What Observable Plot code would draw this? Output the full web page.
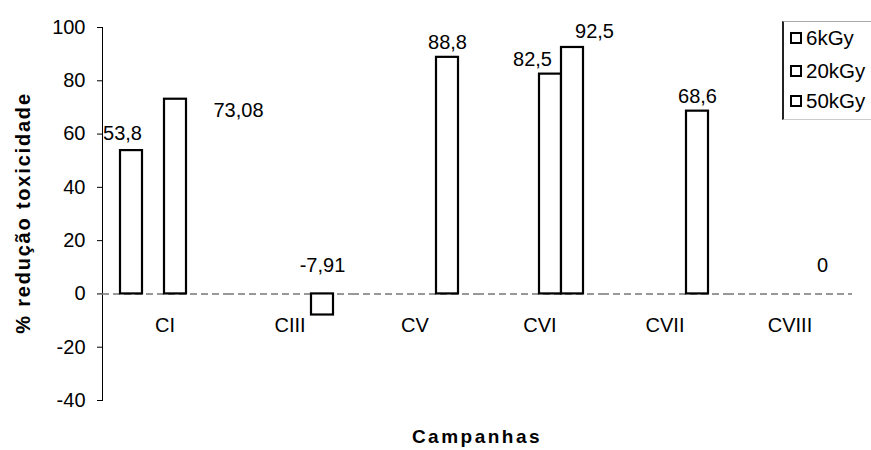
<!DOCTYPE html>
<html>
<head>
<meta charset="utf-8">
<script src="https://cdn.jsdelivr.net/npm/d3@7"></script>
<script src="https://cdn.jsdelivr.net/npm/@observablehq/plot@0.6"></script>
<style>
  html, body { margin: 0; padding: 0; background: #fff; overflow: hidden; }
  #wrap { position: relative; width: 871px; height: 450px; font-family: "Liberation Sans", Arial, sans-serif; color: #000; }
  #ytitle { position: absolute; left: 23px; top: 213px; transform: translate(-50%, -50%) rotate(-90deg);
            font-weight: bold; font-size: 20px; letter-spacing: 1.8px; white-space: nowrap; }
  #xtitle { position: absolute; left: 477px; top: 437px; transform: translate(-50%, -50%);
            font-weight: bold; font-size: 19px; letter-spacing: 2.5px; white-space: nowrap; }
  #legend { position: absolute; left: 782px; top: 21px; width: 100px; height: 97px;
            border-left: 2px solid #222; border-top: 1px solid #aaa; border-bottom: 1px solid #ccc; }
  .item { position: absolute; left: 6px; height: 24px; display: flex; align-items: center; font-size: 20.5px; white-space: nowrap; }
  .sw { width: 8px; height: 8px; border: 2.5px solid #000; background: #fff; margin-right: 4px; }
</style>
</head>
<body>
<div id="wrap">
  <div id="chart"></div>
  <div id="ytitle">% redução toxicidade</div>
  <div id="xtitle">Campanhas</div>
  <div id="legend"></div>
</div>
<script>
// ---- data ----
const categories = ["CI", "CIII", "CV", "CVI", "CVII", "CVIII"];
const doses = ["6kGy", "20kGy", "50kGy"];
const campaign = ["CI", "CI", "CIII", "CV", "CVI", "CVI", "CVII", "CVIII"];
const dose = ["6kGy", "20kGy", "50kGy", "50kGy", "20kGy", "50kGy", "50kGy", "50kGy"];
const reduction = [53.8, 73.08, -7.91, 88.8, 82.5, 92.5, 68.6, 0];
const yTicks = [-40, -20, 0, 20, 40, 60, 80, 100];

const rows = campaign.map((c, i) => ({campaign: c, dose: dose[i], value: reduction[i]}));
const fmt = v => String(v).replace(".", ",");

const isCI6 = d => d.campaign === "CI" && d.dose === "6kGy";
const isCI20 = d => d.campaign === "CI" && d.dose === "20kGy";
const isCVI20 = d => d.campaign === "CVI" && d.dose === "20kGy";
const isCVI50 = d => d.campaign === "CVI" && d.dose === "50kGy";
const special = d => isCI6(d) || isCI20(d) || isCVI20(d) || isCVI50(d);

const barOpts = {fx: "campaign", x: "dose", y: "value", fill: "white", stroke: "#000", strokeWidth: 2.2};
const txt = (data, extra) => Plot.text(data, Object.assign({
  fx: "campaign", x: "dose", y: d => Math.max(0, d.value), text: d => fmt(d.value),
  lineAnchor: "middle", fontSize: 20, fill: "#000"
}, extra));

const chart = Plot.plot({
  width: 871,
  height: 420,
  marginLeft: 100,
  marginRight: 18,
  marginTop: 27,
  marginBottom: 20,
  style: {fontFamily: "'Liberation Sans', Arial, sans-serif", fontSize: "20px", color: "#000", background: "#fff"},
  fx: {domain: categories, padding: 0, axis: null},
  x: {domain: doses, paddingInner: 0, paddingOuter: 1.228, align: 0.677, axis: null},
  y: {domain: [-40, 100], ticks: yTicks, tickFormat: d => String(d), tickSize: 5, tickPadding: 12, line: true, label: null},
  marks: [
    Plot.ruleY([0], {stroke: "#777", strokeWidth: 1.5, strokeDasharray: "7,4"}),
    Plot.barY(rows.filter(d => d.value !== 0 && !isCI6(d)), barOpts),
    Plot.barY(rows.filter(isCI6), Object.assign({}, barOpts, {dx: -22})),
    // category labels just below the zero line
    Plot.text(categories, {fx: d => d, y: () => 0, text: d => d, dy: 32, lineAnchor: "middle", fontSize: 20, fill: "#000"}),
    // value labels
    txt(rows.filter(d => !special(d) && d.value > 0), {dy: -15}),
    txt(rows.filter(d => !special(d) && d.value <= 0), {dy: -28}),
    txt(rows.filter(isCI6), {dx: -31, dy: -17}),
    txt(rows.filter(isCI20), {dx: 63, dy: 11}),
    txt(rows.filter(isCVI20), {dx: -18, dy: -15}),
    txt(rows.filter(isCVI50), {dx: 22, dy: -16})
  ]
});
document.getElementById("chart").appendChild(chart);

// legend
const legend = document.getElementById("legend");
const centers = [16, 49, 79];
doses.forEach((d, i) => {
  const it = document.createElement("div");
  it.className = "item";
  it.style.top = (centers[i] - 12) + "px";
  const sw = document.createElement("span");
  sw.className = "sw";
  const lab = document.createElement("span");
  lab.textContent = d;
  it.appendChild(sw);
  it.appendChild(lab);
  legend.appendChild(it);
});
</script>
</body>
</html>
